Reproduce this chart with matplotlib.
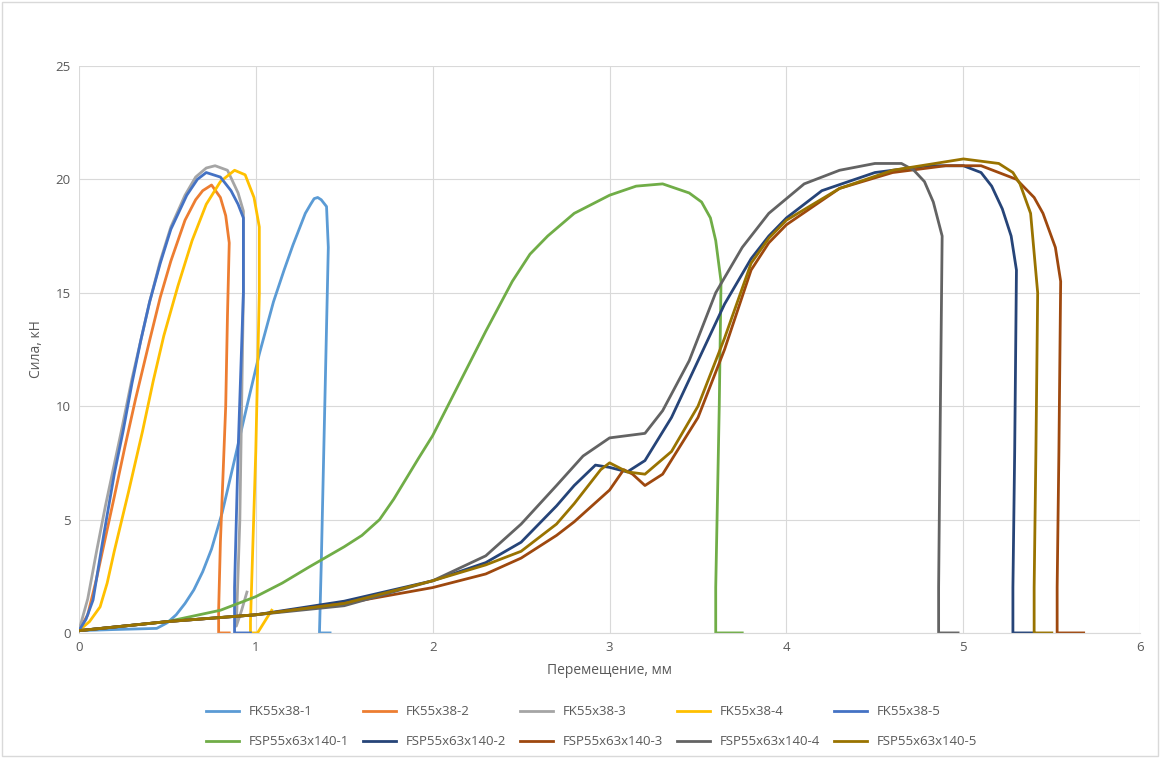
import matplotlib.pyplot as plt
import numpy as np

names = ['FK55x38-1', 'FK55x38-2', 'FK55x38-3', 'FK55x38-4', 'FK55x38-5',
         'FSP55x63x140-1', 'FSP55x63x140-2', 'FSP55x63x140-3', 'FSP55x63x140-4', 'FSP55x63x140-5']
colors = ['#5B9BD5', '#ED7D31', '#A5A5A5', '#FFC000', '#4472C4',
          '#70AD47', '#264478', '#9E480E', '#636363', '#997300']

fk1_x = [0, 0.2, 0.44, 0.5, 0.55, 0.6, 0.65, 0.7, 0.75, 0.81, 0.87, 0.95, 1.02, 1.1, 1.16, 1.21, 1.25, 1.28, 1.31, 1.33, 1.35, 1.37, 1.4, 1.41, 1.39, 1.37, 1.36, 1.42]
fk1_y = [0.1, 0.15, 0.2, 0.45, 0.8, 1.3, 1.9, 2.7, 3.7, 5.3, 7.3, 10.0, 12.3, 14.6, 16.0, 17.1, 17.9, 18.5, 18.9, 19.15, 19.2, 19.1, 18.8, 17.0, 10, 3, 0, 0]
fk2_x = [0, 0.05, 0.1, 0.15, 0.2, 0.26, 0.32, 0.4, 0.46, 0.52, 0.6, 0.66, 0.7, 0.75, 0.8, 0.83, 0.85, 0.84, 0.83, 0.8, 0.79, 0.79, 0.85]
fk2_y = [0.1, 0.8, 2.4, 4.2, 6.0, 8.2, 10.3, 12.9, 14.8, 16.4, 18.2, 19.1, 19.5, 19.75, 19.2, 18.4, 17.2, 14, 10, 4, 1, 0, 0]
fk3_x = [0, 0.05, 0.1, 0.15, 0.24, 0.3, 0.35, 0.4, 0.46, 0.52, 0.6, 0.66, 0.72, 0.77, 0.84, 0.9, 0.93, 0.93, 0.91, 0.89, 0.92, 0.95]
fk3_y = [0.1, 1.5, 3.6, 5.6, 8.9, 11.2, 12.9, 14.6, 16.4, 17.9, 19.3, 20.1, 20.5, 20.6, 20.4, 19.4, 18.6, 15, 5, 0.3, 1.0, 1.8]
fk4_x = [0, 0.06, 0.12, 0.16, 0.2, 0.28, 0.36, 0.42, 0.48, 0.56, 0.64, 0.72, 0.8, 0.88, 0.94, 0.99, 1.02, 1.02, 1.0, 0.98, 0.97, 0.97, 1.01, 1.05, 1.09]
fk4_y = [0.1, 0.5, 1.15, 2.2, 3.6, 6.2, 8.9, 11.1, 13.1, 15.3, 17.3, 18.9, 19.9, 20.4, 20.2, 19.2, 17.9, 15, 8, 3, 0.5, 0, 0, 0.5, 1.0]
fk5_x = [0, 0.04, 0.08, 0.14, 0.2, 0.25, 0.3, 0.35, 0.4, 0.46, 0.52, 0.61, 0.67, 0.72, 0.8, 0.86, 0.9, 0.93, 0.93, 0.9, 0.88, 0.88, 0.97]
fk5_y = [0.1, 0.6, 1.45, 4.3, 7.0, 8.9, 11.0, 12.9, 14.6, 16.3, 17.8, 19.3, 20.0, 20.3, 20.1, 19.5, 18.9, 18.3, 15, 8, 2, 0, 0]

fsp1_x = [0, 0.5, 0.8, 1.0, 1.15, 1.3, 1.5, 1.6, 1.7, 1.78, 1.85, 1.92, 2.0, 2.15, 2.3, 2.45, 2.55, 2.65, 2.8, 3.0, 3.15, 3.3, 3.45, 3.52, 3.57, 3.6, 3.63, 3.62, 3.6, 3.6, 3.75]
fsp1_y = [0.1, 0.5, 1.0, 1.6, 2.2, 2.9, 3.8, 4.3, 5.0, 5.9, 6.8, 7.7, 8.7, 11.0, 13.3, 15.5, 16.7, 17.5, 18.5, 19.3, 19.7, 19.8, 19.4, 19.0, 18.3, 17.3, 15.5, 10, 2, 0, 0]
fsp2_x = [0, 0.5, 1.0, 1.5, 2.0, 2.3, 2.5, 2.7, 2.8, 2.92, 3.0, 3.1, 3.2, 3.35, 3.5, 3.65, 3.8, 3.9, 4.0, 4.2, 4.5, 4.8, 5.0, 5.1, 5.16, 5.22, 5.27, 5.3, 5.29, 5.28, 5.28, 5.4]
fsp2_y = [0.1, 0.5, 0.8, 1.4, 2.3, 3.1, 4.0, 5.6, 6.5, 7.4, 7.3, 7.1, 7.6, 9.5, 12.0, 14.5, 16.5, 17.5, 18.3, 19.5, 20.3, 20.6, 20.6, 20.3, 19.7, 18.7, 17.5, 16.0, 8, 2, 0, 0]
fsp3_x = [0, 0.5, 1.0, 1.5, 2.0, 2.3, 2.5, 2.7, 2.8, 3.0, 3.08, 3.13, 3.2, 3.3, 3.5, 3.65, 3.8, 3.9, 4.0, 4.3, 4.6, 4.9, 5.1, 5.3, 5.4, 5.45, 5.52, 5.55, 5.54, 5.53, 5.53, 5.68]
fsp3_y = [0.1, 0.5, 0.8, 1.3, 2.0, 2.6, 3.3, 4.3, 4.9, 6.3, 7.2, 7.0, 6.5, 7.0, 9.5, 12.5, 16.0, 17.2, 18.0, 19.6, 20.3, 20.6, 20.6, 20.0, 19.2, 18.5, 17.0, 15.5, 8, 2, 0, 0]
fsp4_x = [0, 0.5, 1.0, 1.5, 2.0, 2.3, 2.5, 2.7, 2.85, 3.0, 3.1, 3.2, 3.3, 3.45, 3.6, 3.75, 3.9, 4.1, 4.3, 4.5, 4.65, 4.72, 4.78, 4.83, 4.88, 4.87, 4.86, 4.86, 4.97]
fsp4_y = [0.1, 0.5, 0.8, 1.2, 2.3, 3.4, 4.8, 6.5, 7.8, 8.6, 8.7, 8.8, 9.8, 12.0, 15.0, 17.0, 18.5, 19.8, 20.4, 20.7, 20.7, 20.4, 19.9, 19.0, 17.5, 10, 2, 0, 0]
fsp5_x = [0, 0.5, 1.0, 1.5, 2.0, 2.3, 2.5, 2.7, 2.8, 2.95, 3.0, 3.1, 3.2, 3.35, 3.5, 3.65, 3.8, 3.9, 4.0, 4.3, 4.6, 5.0, 5.2, 5.28, 5.32, 5.38, 5.42, 5.41, 5.4, 5.4, 5.5]
fsp5_y = [0.1, 0.5, 0.8, 1.3, 2.3, 3.0, 3.6, 4.8, 5.7, 7.2, 7.5, 7.1, 7.0, 8.0, 10.0, 13.0, 16.3, 17.4, 18.2, 19.6, 20.4, 20.9, 20.7, 20.3, 19.8, 18.5, 15.0, 8, 2, 0, 0]

xs = [fk1_x, fk2_x, fk3_x, fk4_x, fk5_x, fsp1_x, fsp2_x, fsp3_x, fsp4_x, fsp5_x]
ys = [fk1_y, fk2_y, fk3_y, fk4_y, fk5_y, fsp1_y, fsp2_y, fsp3_y, fsp4_y, fsp5_y]

plt.rcParams['font.family'] = ['Open Sans', 'DejaVu Sans']
fig = plt.figure(figsize=(11.6, 7.58), dpi=100)
ax = fig.add_axes([0.068, 0.165, 0.915, 0.748])
fig.patches.append(plt.Rectangle((0.002, 0.002), 0.996, 0.996, transform=fig.transFigure,
                                 fill=False, edgecolor='#D9D9D9', linewidth=1))

lines = []
for x, y, c, n in zip(xs, ys, colors, names):
    l, = ax.plot(x, y, color=c, linewidth=2, label=n, solid_joinstyle='round')
    lines.append(l)

ax.set_xlim(0, 6)
ax.set_ylim(0, 25)
ax.set_xticks(np.arange(0, 7, 1))
ax.set_yticks(np.arange(0, 26, 5))
ax.grid(color='#D9D9D9', linewidth=0.8)
ax.set_axisbelow(True)
for s in ['top', 'right', 'left']:
    ax.spines[s].set_visible(False)
ax.spines['bottom'].set_color('#D9D9D9')
ax.tick_params(length=0, colors='#595959', labelsize=9.5, pad=6)
ax.set_xlabel('Перемещение, мм', color='#595959', fontsize=10, labelpad=6)
ax.set_ylabel('Сила, кН', color='#595959', fontsize=10, labelpad=8)

# legend fills column-wise, so interleave to get row-wise order
order = [0, 5, 1, 6, 2, 7, 3, 8, 4, 9]
fig.legend([lines[i] for i in order], [names[i] for i in order],
           loc='lower center', bbox_to_anchor=(0.51, -0.003), ncol=5, frameon=False,
           fontsize=9.5, labelcolor='#595959', handlelength=2.5, columnspacing=1.0,
           labelspacing=1.3)

plt.savefig('out.png')
